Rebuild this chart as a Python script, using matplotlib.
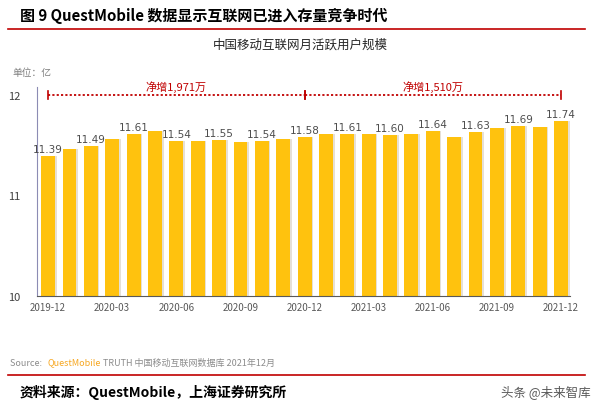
import matplotlib
matplotlib.use("Agg")
import matplotlib.pyplot as plt
import numpy as np

plt.rcParams['font.family'] = ['Noto Sans CJK SC', 'DejaVu Sans']

# monthly active users, 100 million
months = ['2019-12', '2020-01', '2020-02', '2020-03', '2020-04', '2020-05', '2020-06',
          '2020-07', '2020-08', '2020-09', '2020-10', '2020-11', '2020-12',
          '2021-01', '2021-02', '2021-03', '2021-04', '2021-05', '2021-06',
          '2021-07', '2021-08', '2021-09', '2021-10', '2021-11', '2021-12']
mau = [11.39, 11.46, 11.49, 11.56, 11.61, 11.64, 11.54, 11.54, 11.55, 11.53, 11.54, 11.56, 11.58,
       11.61, 11.61, 11.61, 11.60, 11.61, 11.64, 11.58, 11.63, 11.67, 11.69, 11.68, 11.74]
spans = [(0, 12, '净增1,971万'), (12, 24, '净增1,510万')]

x = np.arange(len(months))

fig = plt.figure(figsize=(6, 4.14), dpi=100)
ax = fig.add_axes([0.062, 0.2826, 0.888, 0.505])

# soft shadow then bars
ax.bar(x + 0.08, mau, width=0.65, color='#e6e0d6', zorder=1)
ax.bar(x, mau, width=0.65, color='#ffc20e', zorder=2)

for i in range(0, len(x), 2):
    ax.text(x[i], mau[i] + 0.02, f'{mau[i]:.2f}', ha='center', va='bottom',
            fontsize=7.5, color='#4d4d4d', family='DejaVu Sans')

ax.set_ylim(10, 12.08)
ax.set_xlim(-0.51, 24.42)
ax.set_yticks([10, 11, 12])
ax.set_yticklabels(['10', '11', '12'], fontsize=8, color='#404040')
ax.set_xticks(x[::3])
ax.set_xticklabels(months[::3], fontsize=7, color='#595959')
ax.tick_params(length=0, pad=4)
ax.tick_params(axis='y', pad=12)
for s in ['top', 'right']:
    ax.spines[s].set_visible(False)
ax.spines['left'].set_color('#8c8cb4')
ax.spines['bottom'].set_color('#595959')

# net-increase arrows
for a, b, lab in spans:
    ax.plot([x[a], x[b]], [12, 12], ls=(0, (1.2, 1.2)), color='#c00000', lw=1.3, zorder=3)
    for e in (a, b):
        ax.plot([x[e], x[e]], [11.96, 12.04], color='#c00000', lw=1.2, zorder=3)
    ax.text((x[a] + x[b]) / 2, 12.03, lab, ha='center', va='bottom', fontsize=8, color='#c00000')

fig.text(0.033, 0.962, '图 9 QuestMobile 数据显示互联网已进入存量竞争时代', fontsize=10.8,
         fontweight='bold', va='center', ha='left')
fig.add_artist(plt.Line2D([0.013, 0.975], [0.928, 0.928], color='#c00000', lw=1.2))
fig.text(0.5, 0.89, '中国移动互联网月活跃用户规模', fontsize=9, ha='center', va='center', color='#262626')
fig.text(0.02, 0.823, '单位：亿', fontsize=7, ha='left', va='center', color='#7f7f7f')

fig.text(0.017, 0.123, 'Source: ', fontsize=6.5, color='#8c8c8c', va='center')
fig.text(0.08, 0.123, 'QuestMobile', fontsize=6.5, color='#f7a823', va='center')
fig.text(0.172, 0.123, 'TRUTH 中国移动互联网数据库 2021年12月', fontsize=6.5, color='#8c8c8c', va='center')
fig.add_artist(plt.Line2D([0.013, 0.975], [0.092, 0.092], color='#c00000', lw=1.2))
fig.text(0.033, 0.053, '资料来源：QuestMobile，上海证券研究所', fontsize=10, fontweight='bold',
         style='italic', va='center', ha='left')
fig.text(0.985, 0.053, '头条 @未来智库', fontsize=9, color='#595959', va='center', ha='right')

fig.savefig('out.png', dpi=100, facecolor='white')
